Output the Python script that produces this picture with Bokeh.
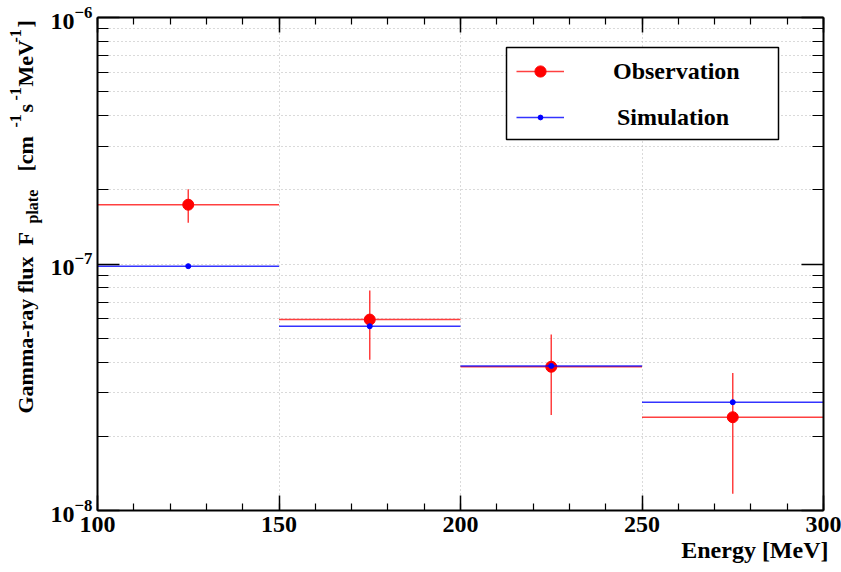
from math import pi
from bokeh.plotting import figure
from bokeh.layouts import row
from bokeh.models import (ColumnDataSource, Label, Legend, LegendItem, BoxAnnotation, Title,
                          FixedTicker, LogAxis, LinearAxis, SingleIntervalTicker, Range1d)
from bokeh.embed import file_html
from bokeh.resources import INLINE

# ---------------- data ----------------
bin_lo = [100, 150, 200, 250]
bin_hi = [150, 200, 250, 300]
obs_flux = [1.74e-7, 5.95e-8, 3.83e-8, 2.39e-8]
obs_upper = [2.01e-7, 7.81e-8, 5.18e-8, 3.61e-8]
obs_lower = [1.47e-7, 4.09e-8, 2.44e-8, 1.17e-8]
sim_flux = [9.8e-8, 5.59e-8, 3.86e-8, 2.75e-8]
y_major = [1e-8, 1e-7, 1e-6]
x_title = "Energy [MeV]"
legend_labels = ["Observation", "Simulation"]

bin_mid = [(a + b) / 2 for a, b in zip(bin_lo, bin_hi)]
obs = ColumnDataSource(dict(lo=bin_lo, hi=bin_hi, mid=bin_mid, y=obs_flux,
                            up=obs_upper, dn=obs_lower))
sim = ColumnDataSource(dict(lo=bin_lo, hi=bin_hi, mid=bin_mid, y=sim_flux))

# ---------------- layout ----------------
W, H = 841, 572
LW = 45                                # width of the strip holding the y title
FL, FT, FW, FH = 97, 17, 726, 493      # frame in page coords
FB = FT + FH
FONT = "Liberation Serif"

p = figure(width=W - LW, height=H, x_axis_type="linear", y_axis_type="log",
           x_range=Range1d(100, 300), y_range=Range1d(1e-8, 1e-6),
           output_backend="svg", toolbar_location=None,
           min_border_left=FL - LW, min_border_top=FT,
           min_border_right=W - FL - FW, min_border_bottom=H - FT - FH)
p.outline_line_color = None
p.background_fill_color = "white"

minor_y = [m * d for d in [1e-8, 1e-7] for m in range(2, 10)]
yt = FixedTicker(ticks=y_major, minor_ticks=minor_y)
xt = SingleIntervalTicker(interval=50, num_minor_ticks=5)

def style_axis(ax, major_in, minor_in, labels=True):
    ax.axis_line_color = "black"
    ax.axis_line_width = 2
    ax.major_tick_line_color = "black"
    ax.minor_tick_line_color = "black"
    ax.major_tick_line_width = 1.5
    ax.minor_tick_line_width = 1.2
    ax.major_tick_in = major_in
    ax.major_tick_out = 0
    ax.minor_tick_in = minor_in
    ax.minor_tick_out = 0
    if labels:
        ax.major_label_text_font = FONT
        ax.major_label_text_font_style = "bold"
        ax.major_label_text_font_size = "24px"
        ax.major_label_text_color = "black"
    else:
        ax.major_label_text_font_size = "1px"
        ax.major_label_text_color = None
        ax.major_label_standoff = 0

p.xaxis.ticker = xt
p.yaxis.ticker = yt
style_axis(p.xaxis[0], 15, 7)
style_axis(p.yaxis[0], 22, 11)
p.xaxis.major_label_standoff = 6
p.yaxis.major_label_standoff = 5

top_ax = LinearAxis(ticker=SingleIntervalTicker(interval=50, num_minor_ticks=5))
style_axis(top_ax, 15, 7, labels=False)
p.add_layout(top_ax, "above")
right_ax = LogAxis(ticker=FixedTicker(ticks=y_major, minor_ticks=minor_y))
style_axis(right_ax, 22, 11, labels=False)
p.add_layout(right_ax, "right")

# x title, right-aligned under the axis
p.add_layout(Title(text=x_title, align="right", text_font=FONT, text_font_style="bold",
                   text_font_size="24px", text_color="black", standoff=0, offset=-5), "below")

# grid
for g in (p.xgrid, p.ygrid):
    g.grid_line_color = "#b4b4b4"
    g.grid_line_dash = "1 3"
    g.grid_line_width = 1
p.ygrid.minor_grid_line_color = "#b4b4b4"
p.ygrid.minor_grid_line_dash = "1 3"
p.ygrid.minor_grid_line_width = 1

# ---------------- glyphs ----------------
RED, BLUE = "#ff0000", "#0000ff"
r_obs_h = p.segment("lo", "y", "hi", "y", source=obs, line_color=RED, line_width=1.5, line_alpha=0.75)
r_obs_v = p.segment("mid", "dn", "mid", "up", source=obs, line_color=RED, line_width=1.5, line_alpha=0.75)
r_obs_p = p.scatter("mid", "y", source=obs, size=11, color=RED)
r_sim_h = p.segment("lo", "y", "hi", "y", source=sim, line_color=BLUE, line_width=1.5, line_alpha=0.8)
r_sim_p = p.scatter("mid", "y", source=sim, size=5, color=BLUE)

# helpers: page coords -> frame-relative screen coords (origin bottom-left of frame)
def sx(px):
    return px - FL

def sy(py):
    return FB - py

# ---------------- legend ----------------
box = BoxAnnotation(left=sx(506), right=sx(778), top=sy(47), bottom=sy(139),
                    left_units="screen", right_units="screen", top_units="screen", bottom_units="screen",
                    fill_color="white", fill_alpha=1, line_color="black", line_alpha=1, line_width=1.5)
p.add_layout(box)

def make_legend(label, rends, row_center, glyph_h, standoff):
    lg = Legend(items=[LegendItem(label=label, renderers=rends)],
                location=(sx(516), sy(row_center + 15)),
                padding=10, margin=0, spacing=0, glyph_width=48, glyph_height=glyph_h,
                label_height=30, label_standoff=standoff,
                border_line_color=None, background_fill_alpha=0,
                label_text_font=FONT, label_text_font_style="bold",
                label_text_font_size="24px", label_text_color="black")
    p.add_layout(lg)

make_legend(legend_labels[0], [r_obs_h, r_obs_p], 71, 28, 49)
make_legend(legend_labels[1], [r_sim_h, r_sim_p], 117, 12, 53)

# ---------------- y title strip (frame spans the same rows as the main frame) ----------------
t = figure(width=LW, height=H, x_range=Range1d(0, LW), y_range=Range1d(FB, FT),
           output_backend="svg", toolbar_location=None,
           x_axis_location=None, y_axis_location=None,
           min_border_left=0, min_border_right=0, min_border_top=FT, min_border_bottom=H - FB)
t.outline_line_color = None
t.grid.visible = False

# y title pieces: (text, start page y, baseline position, font size)
y_title_parts = [
    ("Gamma-ray flux", 413, 25, 22),
    ("F", 245, 25, 22),
    ("plate", 223, 32, 16),
    ("[cm", 171, 25, 22),
    ("-1", 127, 15, 16),
    ("s", 112, 25, 22),
    ("-1", 100, 15, 16),
    ("MeV", 86, 25, 22),
    ("-1", 42, 15, 16),
    ("]", 27, 25, 22),
]
for txt, ystart, xb, fs in y_title_parts:
    t.add_layout(Label(x=xb, y=ystart, text=txt,
                       angle=pi / 2, text_align="left", text_baseline="alphabetic",
                       text_font=FONT, text_font_style="bold", text_font_size=f"{fs}px",
                       text_color="black"))

layout = row(t, p, spacing=0)
open("out.html", "w").write(file_html(layout, INLINE))
